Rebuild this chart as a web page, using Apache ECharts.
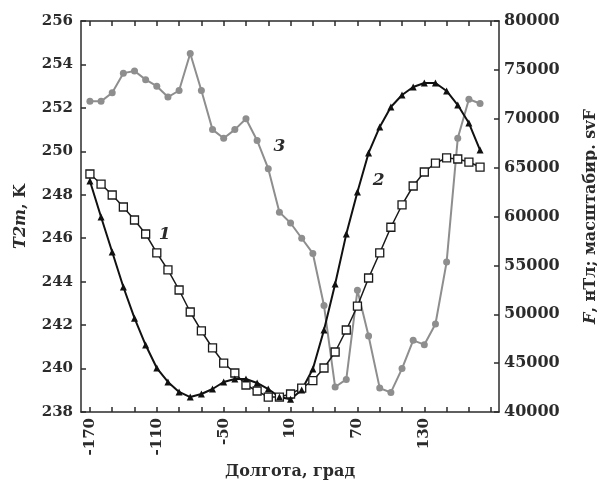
<!DOCTYPE html>
<html><head><meta charset="utf-8">
<script src="https://cdn.jsdelivr.net/npm/echarts@6/dist/echarts.min.js"></script>
<style>html,body{margin:0;padding:0;background:#fff}#c{width:597px;height:481px}</style>
</head><body><div id="c"></div>
<script>
const longitudes = [-170,-160,-150,-140,-130,-120,-110,-100,-90,-80,-70,-60,-50,-40,-30,-20,-10,0,10,20,30,40,50,60,70,80,90,100,110,120,130,140,150,160,170,180];
// curve 1 (open squares), right axis
const curve1 = [64350,63320,62200,60970,59640,58210,56270,54530,52480,50230,48290,46550,45010,43990,42760,42150,41530,41530,41840,42450,43200,44500,46140,48390,50840,53710,56270,58900,61180,63120,64550,65470,65990,65880,65570,65060];
// curve 2 (filled triangles), right axis
const curve2 = [63630,59950,56370,52790,49600,46850,44500,43070,42050,41530,41840,42350,43070,43380,43380,42970,42350,41530,41300,42250,44400,48390,53100,58200,62510,66500,69160,71200,72430,73250,73660,73660,72840,71400,69560,66800];
// curve 3 (grey circles), left axis T2m
const curve3 = [252.3,252.3,252.7,253.6,253.7,253.3,253.0,252.5,252.8,254.5,252.8,251.0,250.6,251.0,251.5,250.5,249.2,247.2,246.7,246.0,245.3,242.9,239.15,239.5,243.6,241.5,239.1,238.9,240.0,241.3,241.1,242.05,244.9,250.6,252.4,252.2];
const xTickValues = [-170,-150,-130,-110,-90,-70,-50,-30,-10,10,30,50,70,90,110,130,150,170,190];
const xLabelValues = [-170,-110,-50,10,70,130];

const FONT = 'DejaVu Serif';
const axisLineStyle = {color:'#2b2b2b', width:1.5};
const labelStyle = {fontFamily:FONT, fontWeight:'bold', fontSize:15, color:'#2b2b2b'};
const pair = arr => longitudes.map((x,i)=>[x, arr[i]]);
const chart = echarts.init(document.getElementById('c'), null, {renderer:'canvas'});
chart.setOption({
  backgroundColor:'#fff',
  animation:false,
  grid:{left:81, right:98, top:21, bottom:69, outerBoundsMode:'none', containLabel:false},
  xAxis:[
    {type:'value', position:'bottom', min:-178, max:197,
     axisLine:{onZero:false, lineStyle:axisLineStyle},
     axisTick:{inside:true, length:5, customValues:xTickValues, lineStyle:axisLineStyle},
     axisLabel:Object.assign({customValues:xLabelValues, rotate:90, margin:6}, labelStyle),
     splitLine:{show:false},
     name:'Долгота, град', nameLocation:'middle', nameGap:48,
     nameTextStyle:{fontFamily:FONT, fontWeight:'bold', fontSize:16, color:'#2b2b2b'}},
    {type:'value', position:'top', min:-178, max:197,
     axisLine:{onZero:false, lineStyle:axisLineStyle},
     axisTick:{inside:true, length:5, customValues:xTickValues, lineStyle:axisLineStyle},
     axisLabel:{show:false}, splitLine:{show:false}}
  ],
  yAxis:[
    {type:'value', position:'left', min:238, max:256, interval:2,
     axisLine:{show:true, onZero:false, lineStyle:axisLineStyle},
     axisTick:{show:true, inside:true, length:5, lineStyle:axisLineStyle},
     axisLabel:Object.assign({margin:8}, labelStyle),
     splitLine:{show:false},
     name:'{i|T2m}, K', nameLocation:'middle', nameRotate:90, nameGap:52,
     nameTextStyle:{fontFamily:FONT, fontWeight:'bold', fontSize:16, color:'#2b2b2b',
       rich:{i:{fontFamily:FONT, fontWeight:'bold', fontStyle:'italic', fontSize:16, color:'#2b2b2b'}}}},
    {type:'value', position:'right', min:40000, max:80000, interval:5000,
     axisLine:{show:true, onZero:false, lineStyle:axisLineStyle},
     axisTick:{show:true, inside:true, length:5, lineStyle:axisLineStyle},
     axisLabel:Object.assign({margin:5, formatter:v=>String(v)}, labelStyle, {fontSize:16}),
     splitLine:{show:false},
     name:'{i|F}, нТл; масштабир. svF', nameLocation:'middle', nameRotate:90, nameGap:84,
     nameTextStyle:{fontFamily:FONT, fontWeight:'bold', fontSize:16, color:'#2b2b2b',
       rich:{i:{fontFamily:FONT, fontWeight:'bold', fontStyle:'italic', fontSize:16, color:'#2b2b2b'}}}}
  ],
  series:[
    {type:'line', name:'3', xAxisIndex:0, yAxisIndex:0, data:pair(curve3),
     symbol:'circle', symbolSize:7, itemStyle:{color:'#8e8e8e'}, lineStyle:{color:'#8e8e8e', width:2},
     markPoint:{symbol:'circle', symbolSize:0, data:[{coord:[0,250.2], value:'3'}],
       label:{show:true, formatter:'3', fontFamily:FONT, fontWeight:'bold', fontStyle:'italic', fontSize:17, color:'#2b2b2b'}}},
    {type:'line', name:'1', xAxisIndex:0, yAxisIndex:1, data:pair(curve1),
     symbol:'rect', symbolSize:8, itemStyle:{color:'#fff', borderColor:'#1a1a1a', borderWidth:1.3},
     lineStyle:{color:'#1a1a1a', width:1.5},
     markPoint:{symbol:'circle', symbolSize:0, data:[{coord:[-103,58100], value:'1'}],
       label:{show:true, formatter:'1', fontFamily:FONT, fontWeight:'bold', fontStyle:'italic', fontSize:17, color:'#2b2b2b'}}},
    {type:'line', name:'2', xAxisIndex:0, yAxisIndex:1, data:pair(curve2),
     symbol:'triangle', symbolSize:7, itemStyle:{color:'#111'}, lineStyle:{color:'#111', width:2},
     markPoint:{symbol:'circle', symbolSize:0, data:[{coord:[89,63700], value:'2'}],
       label:{show:true, formatter:'2', fontFamily:FONT, fontWeight:'bold', fontStyle:'italic', fontSize:17, color:'#2b2b2b'}}}
  ]
});
</script></body></html>
